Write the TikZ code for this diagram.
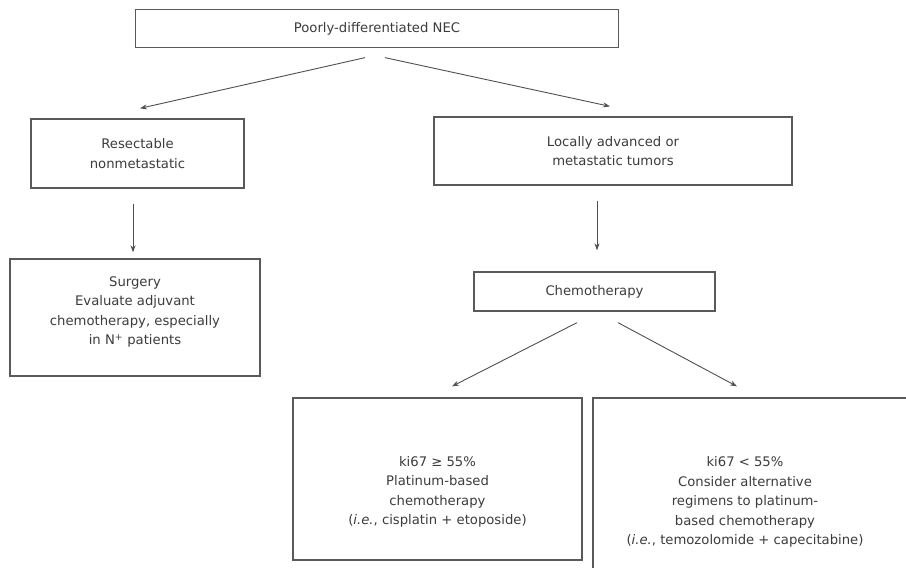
\documentclass[tikz,border=0pt]{standalone}
\usepackage{fontspec}
\setmainfont{DejaVu Sans}
\usetikzlibrary{arrows.meta,calc}
\definecolor{boxline}{HTML}{5A5A5A}
\definecolor{txtcol}{HTML}{3C3C3C}
\definecolor{arrcol}{HTML}{505050}
\tikzset{
  box/.style={draw=boxline, line width=1.3pt, fill=white, inner sep=0pt, anchor=center},
  txt/.style={text=txtcol, font=\fontsize{13.2}{19.5}\selectfont, align=center, inner sep=0pt},
  arr/.style={draw=arrcol, line width=0.9pt, -{Stealth[length=7pt,width=5pt]}}
}
\begin{document}
\begin{tikzpicture}[x=1pt,y=-1pt]
\useasboundingbox (0,0) rectangle (906,568);
\clip (0,0) rectangle (906,568);
\fill[white] (0,0) rectangle (906,568);
% boxes
\node[box, minimum width=483pt, minimum height=38pt] (top) at (377,28.5) {};
\node[txt] (topT) at (377,28.5) {Poorly-differentiated NEC};
\node[box, minimum width=213pt, minimum height=69pt] (resect) at (137.5,153.5) {};
\node[txt] (resectT) at (137.5,153.5) {Resectable\\nonmetastatic};
\node[box, minimum width=358pt, minimum height=68pt] (locally) at (613,151) {};
\node[txt] (locallyT) at (613,151) {Locally advanced or\\metastatic tumors};
\node[box, minimum width=250pt, minimum height=117pt] (surgery) at (135,317.5) {};
\node[txt] (surgeryT) at (135,312) {Surgery\\Evaluate adjuvant\\chemotherapy, especially\\in N\textsuperscript{+} patients};
\node[box, minimum width=241pt, minimum height=39pt] (chemo) at (594.5,291.5) {};
\node[txt] (chemoT) at (594.5,291.5) {Chemotherapy};
\node[box, minimum width=289pt, minimum height=162pt] (kihigh) at (437.5,479) {};
\node[txt] (kihighT) at (437.5,492) {ki67 ≥ 55\%\\Platinum-based\\chemotherapy\\(\textit{i.e.}, cisplatin + etoposide)};
\node[box, minimum width=330pt, minimum height=202pt] (kilow) at (758,499) {};
\node[txt] (kilowT) at (745,502) {ki67 < 55\%\\Consider alternative\\regimens to platinum-\\based chemotherapy\\(\textit{i.e.}, temozolomide + capecitabine)};
% connectors
\draw[arr] ([xshift=-12pt,yshift=-9.5pt]top.south) -- ([xshift=2.5pt,yshift=10pt]resect.north);
\draw[arr] ([xshift=8pt,yshift=-9.5pt]top.south) -- ([xshift=-3pt,yshift=10pt]locally.north);
\draw[arr] ([xshift=-4.5pt,yshift=-15pt]resect.south) -- ([xshift=-2pt,yshift=6pt]surgery.north);
\draw[arr] ([xshift=-16pt,yshift=-15pt]locally.south) -- ([xshift=2.5pt,yshift=21pt]chemo.north);
\draw[arr] ([xshift=-17.5pt,yshift=-11pt]chemo.south) -- ([xshift=14.5pt,yshift=11pt]kihigh.north);
\draw[arr] ([xshift=23.5pt,yshift=-11pt]chemo.south) -- ([xshift=-21pt,yshift=11pt]kilow.north);
\end{tikzpicture}
\end{document}
